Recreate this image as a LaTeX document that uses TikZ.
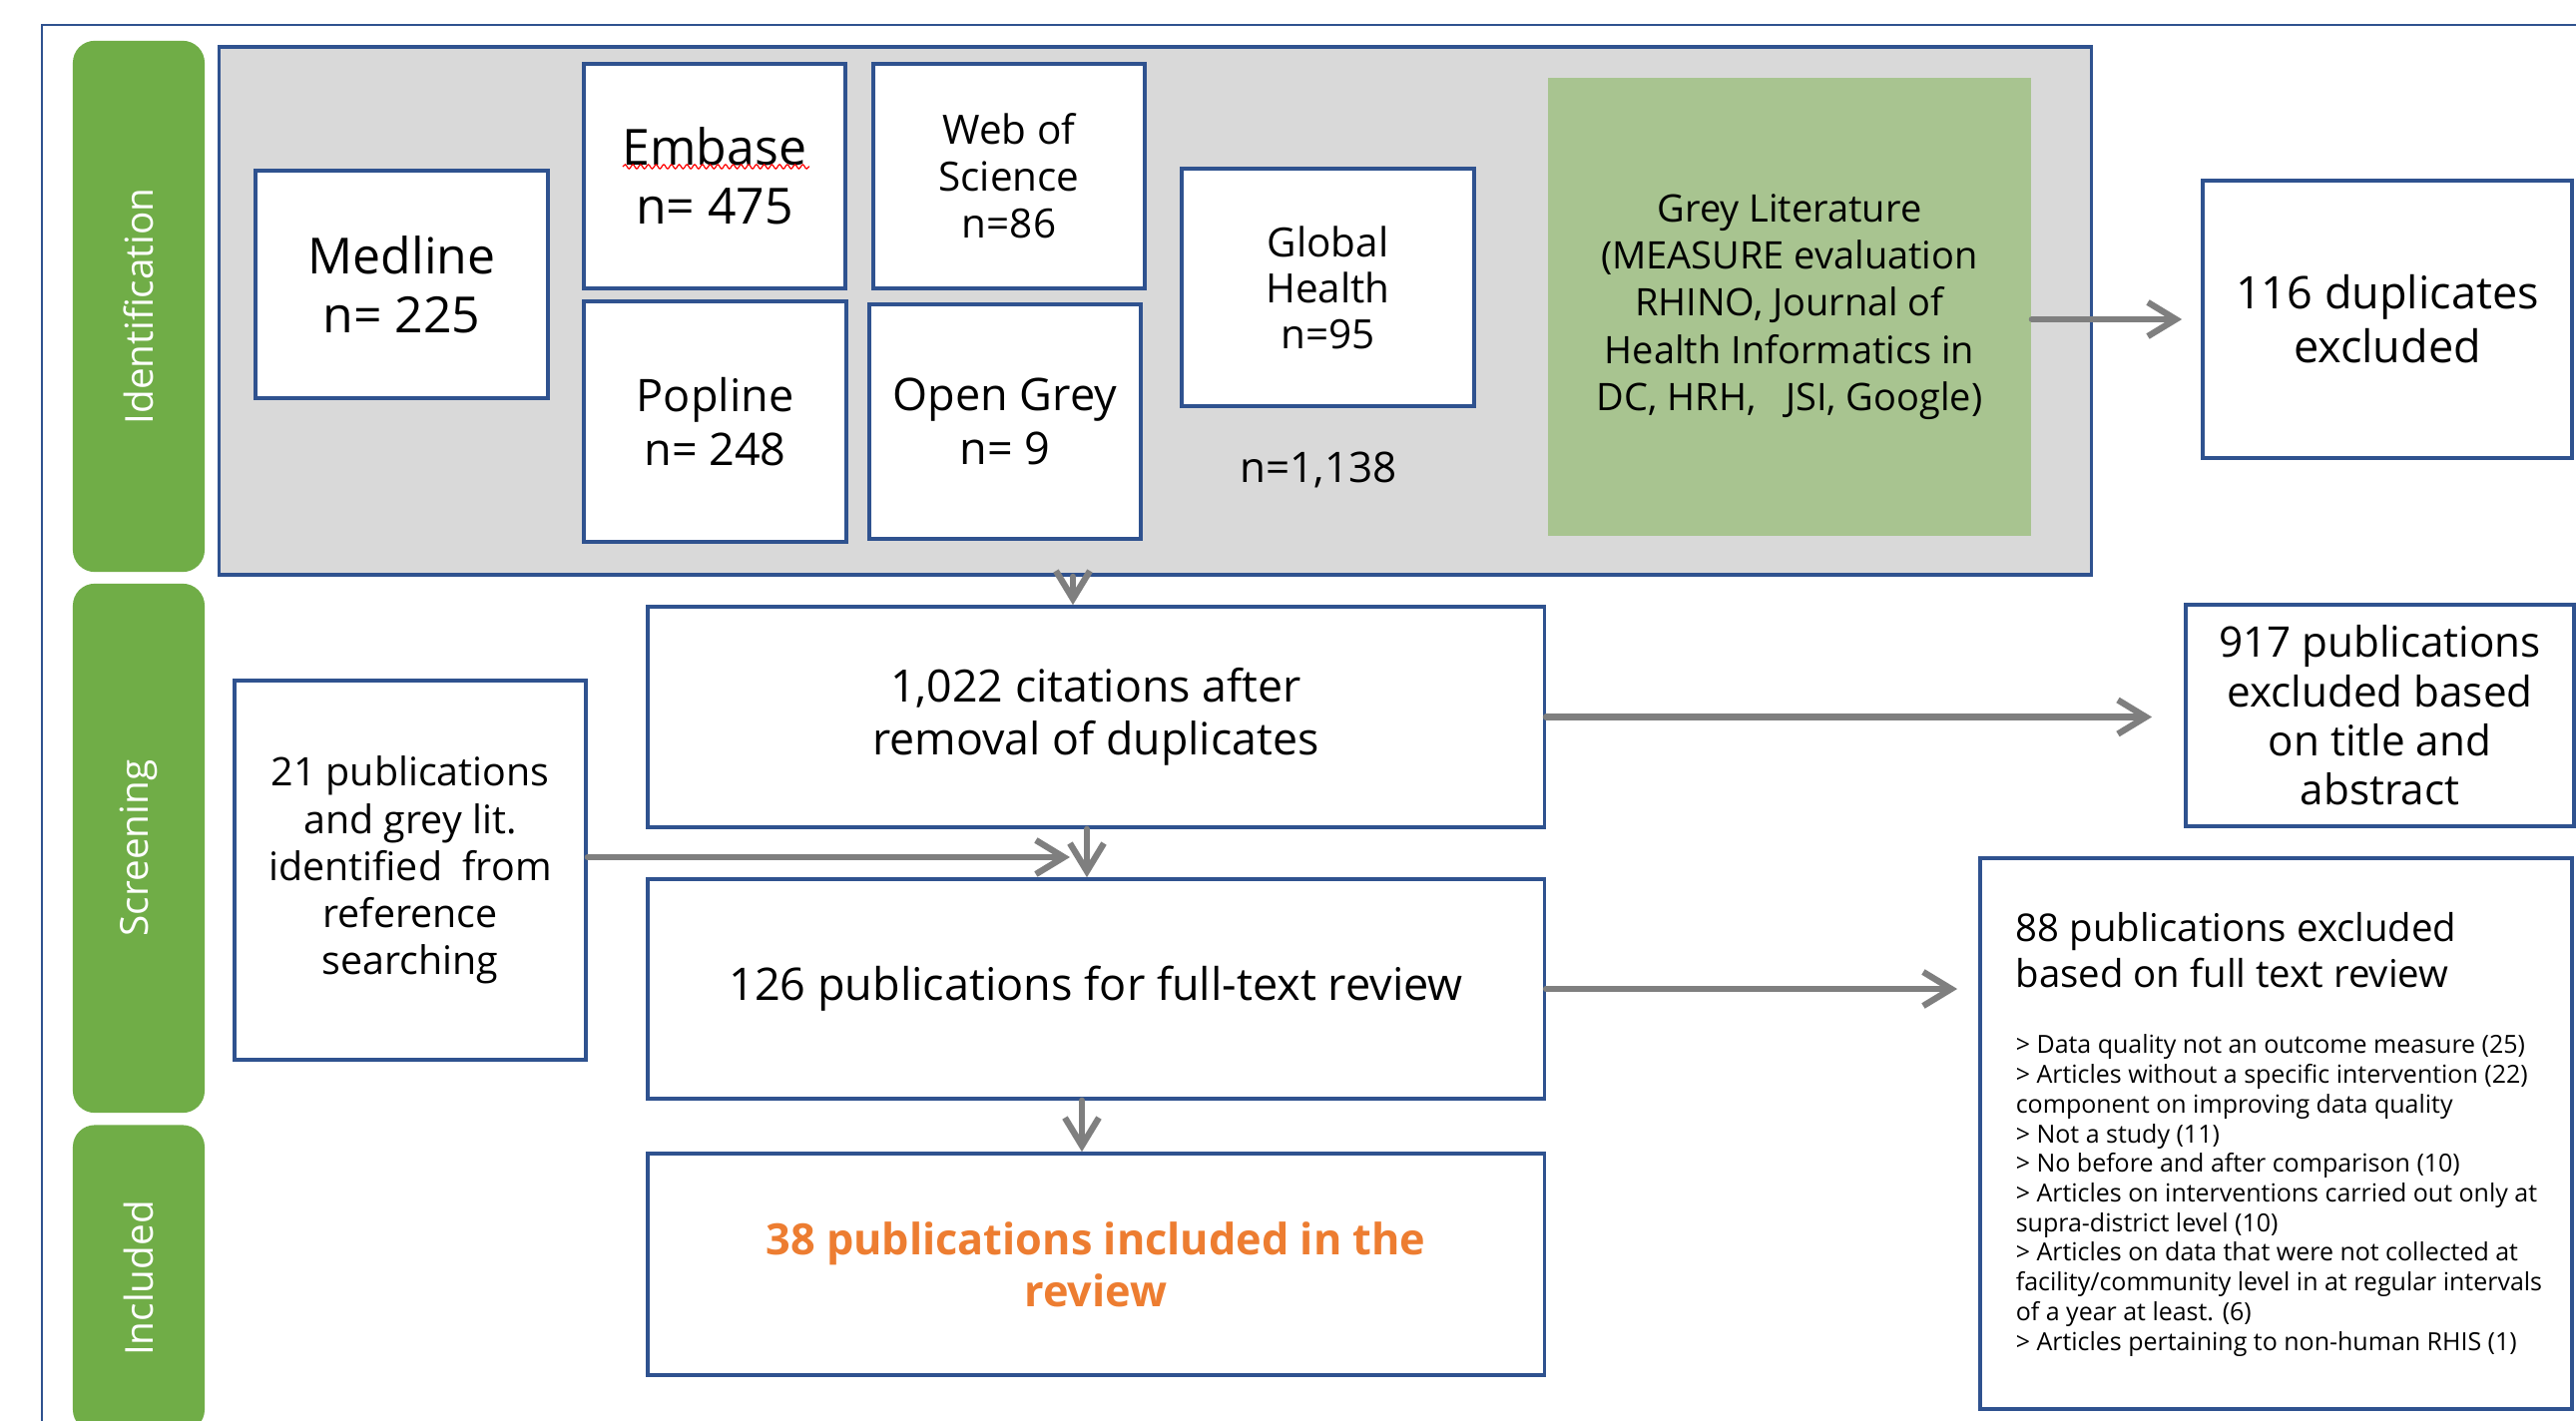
\documentclass[tikz,border=0pt]{standalone}
\usepackage{fontspec}
\setmainfont{Open Sans}
\usetikzlibrary{arrows.meta,decorations.pathmorphing}
\definecolor{edgeblue}{RGB}{47,82,143}
\definecolor{phasegreen}{RGB}{112,173,71}
\definecolor{greylitgreen}{RGB}{168,196,144}
\definecolor{poolgrey}{RGB}{217,217,217}
\definecolor{flowgrey}{RGB}{127,127,127}
\definecolor{inclorange}{RGB}{237,125,49}
\newcommand{\fs}[2]{\fontsize{#1}{#2}\selectfont}

\begin{document}
\begin{tikzpicture}[x=0.01cm,y=-0.01cm,
    phase/.style={fill=phasegreen,rounded corners=0.22cm,rotate=90,
                  minimum height=1.32cm,text=white,font=\fs{11}{13}},
    box/.style={draw=edgeblue,line width=1pt,fill=white,align=center,inner sep=2pt},
    flow/.style={-{Straight Barb[length=0.28cm,width=0.34cm]},draw=flowgrey,
                 line width=1.8pt,line cap=round},
  ]
    \path[use as bounding box,clip] (0,0) rectangle (2581,1424);
    \fill[white] (0,0) rectangle (2581,1424);
    \draw[edgeblue,line width=0.85pt] (42,25) rectangle (2640,1470);

    % phases
    \node[phase,minimum width=5.32cm] (idphase)  at (139,307)  {Identification};
    \node[phase,minimum width=5.30cm] (scphase)  at (139,850)  {Screening};
    \node[phase,minimum width=3.07cm] (incphase) at (139,1281) {Included};

    % identification
    \node[draw=edgeblue,line width=1pt,fill=poolgrey,minimum width=18.75cm,
          minimum height=5.29cm] (pool) at (1157.5,311.5) {};
    \node[box,minimum width=2.93cm,minimum height=2.28cm,font=\fs{14.2}{16.8}]
      (medline) at (402.5,285) {Medline\\n= 225};
    \node[box,minimum width=2.62cm,minimum height=2.25cm,font=\fs{14.2}{16.8}]
      (embase) at (716,176.5) {Embase\\n= 475};
    \draw[red,line width=0.35pt,decorate,
          decoration={snake,amplitude=0.6pt,segment length=2.2pt}]
      ([xshift=-0.92cm,yshift=0.095cm]embase.center) -- ([xshift=0.95cm,yshift=0.095cm]embase.center);
    \node[box,minimum width=2.72cm,minimum height=2.25cm,font=\fs{11.5}{13.4}]
      (wos) at (1011,176.5) {Web of\\Science\\n=86};
    \node[box,minimum width=2.63cm,minimum height=2.41cm,font=\fs{12.8}{15.4}]
      (popline) at (716.5,422.5) {Popline\\n= 248};
    \node[box,minimum width=2.72cm,minimum height=2.35cm,font=\fs{12.8}{15.4}]
      (opengrey) at (1007,422.5) {Open Grey\\n= 9};
    \node[box,minimum width=2.93cm,minimum height=2.38cm,font=\fs{11.5}{13.1}]
      (globhealth) at (1330.5,288) {Global\\Health\\n=95};
    \node[font=\fs{12}{14}] (pooltotal) at (1321,471) {n=1,138};
    \node[fill=greylitgreen,minimum width=4.84cm,minimum height=4.59cm,align=center,
          font=\fs{10.8}{13.4}] (greylit) at (1793,307.5)
      {Grey Literature\\(MEASURE evaluation\\RHINO, Journal of\\Health Informatics in\\DC, HRH,~~ JSI, Google)};
    \node[box,minimum width=3.70cm,minimum height=2.78cm,font=\fs{12.8}{15.3}]
      (dupes) at (2392,320) {116 duplicates\\excluded};

    % screening
    \node[box,minimum width=8.98cm,minimum height=2.21cm,font=\fs{12.7}{15}]
      (cites) at (1098,718.5) {1,022 citations after\\removal of duplicates};
    \node[box,minimum width=3.89cm,minimum height=2.22cm,font=\fs{12}{14}]
      (titleabs) at (2384.5,717) {917 publications\\excluded based\\on title and\\abstract};
    \node[box,minimum width=3.52cm,minimum height=3.80cm,font=\fs{11.2}{13.4}]
      (refsearch) at (411,872) {21 publications\\and grey lit.\\identified~ from\\reference\\searching};
    \node[box,minimum width=8.98cm,minimum height=2.20cm,font=\fs{12.8}{15}]
      (fulltext) at (1098,991) {126 publications for full-text review};
    \node[box,minimum width=5.93cm,minimum height=5.52cm] (ftexcl) at (2280.5,1136) {};
    \node[anchor=north west,align=left,inner sep=0pt,font=\fs{10.9}{13}]
      (ftexclhead) at ([xshift=0.37cm,yshift=-0.56cm]ftexcl.north west)
      {88 publications excluded\\based on full text review};
    \node[anchor=north west,align=left,inner sep=0pt,font=\fs{7.1}{8.45}]
      (ftexcllist) at ([xshift=0.37cm,yshift=-1.78cm]ftexcl.north west)
      {> Data quality not an outcome measure (25)\\
       > Articles without a specific intervention (22)\\
       component on improving data quality\\
       > Not a study (11)\\
       > No before and after comparison (10)\\
       > Articles on interventions carried out only at\\
       supra-district level (10)\\
       > Articles on data that were not collected at\\
       facility/community level in at regular intervals\\
       of a year at least. (6)\\
       > Articles pertaining to non-human RHIS (1)};

    % included
    \node[box,minimum width=8.98cm,minimum height=2.22cm,text=inclorange,
          font=\bfseries\fs{12.3}{14.8}]
      (included) at (1098,1267) {38 publications included in the\\review};

    % arrows
    \coordinate (merge) at (1072,859);
    \draw[flow,shorten >=0.19cm] (greylit.east |- dupes.west) -- (dupes.west);
    \draw[flow] ([xshift=-0.23cm]cites.north |- pool.south) -- ([xshift=-0.23cm]cites.north);
    \draw[flow,shorten >=0.32cm] (cites.east) -- (cites.east -| titleabs.west);
    \draw[flow] (refsearch.east |- merge) -- (merge);
    \draw[flow] ([xshift=-0.09cm]cites.south) -- ([xshift=-0.09cm]fulltext.north);
    \draw[flow,shorten >=0.21cm] (fulltext.east) -- (fulltext.east -| ftexcl.west);
    \draw[flow] ([xshift=-0.14cm]fulltext.south) -- ([xshift=-0.14cm]included.north);

  \end{tikzpicture}
\end{document}
